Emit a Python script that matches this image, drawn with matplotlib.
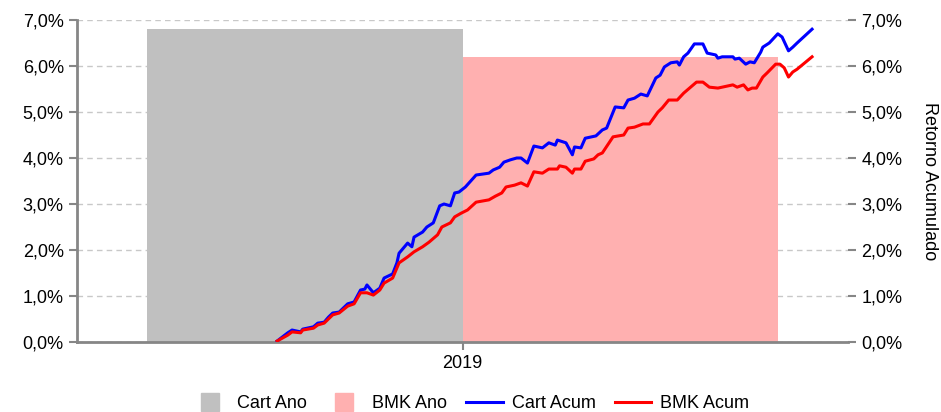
import numpy as np
import matplotlib
matplotlib.use("Agg")
import matplotlib.pyplot as plt
from matplotlib.ticker import FuncFormatter, MultipleLocator
from matplotlib.lines import Line2D

plt.rcParams['font.family'] = ['Liberation Sans', 'DejaVu Sans']

# Annual returns (%)
categories = ['2019']
cart_ano = [6.80]
bmk_ano = [6.20]

# Cumulative returns (%) by trading day
cart_dias = [0, 5, 7, 11, 12, 17, 19, 22, 24, 26, 29, 33, 36, 39, 41, 42, 45, 48, 50, 54,
             56, 57, 61, 63, 64, 68, 70, 73, 76, 78, 81, 83, 85, 88, 93, 99, 101, 104, 106, 109,
             112, 114, 117, 120, 124, 127, 130, 131, 135, 138, 139, 142, 144, 149, 152, 154, 158, 162, 164, 167,
             170, 173, 177, 179, 181, 184, 187, 188, 190, 192, 195, 199, 201, 205, 206, 208, 213, 214, 216, 219,
             221, 223, 226, 227, 230, 234, 236, 239, 241, 243, 250]
cart_acum = [0.02, 0.20, 0.26, 0.22, 0.28, 0.33, 0.41, 0.43, 0.54, 0.63, 0.65, 0.83, 0.87, 1.13, 1.15, 1.24, 1.07, 1.17, 1.39, 1.48,
             1.72, 1.93, 2.15, 2.07, 2.28, 2.39, 2.50, 2.59, 2.96, 3.00, 2.96, 3.24, 3.26, 3.37, 3.63, 3.67, 3.74, 3.80, 3.91, 3.96,
             4.00, 4.00, 3.89, 4.26, 4.22, 4.33, 4.28, 4.39, 4.33, 4.07, 4.24, 4.22, 4.43, 4.48, 4.61, 4.65, 5.11, 5.09, 5.26, 5.30,
             5.39, 5.35, 5.74, 5.80, 5.98, 6.07, 6.09, 6.02, 6.20, 6.28, 6.48, 6.48, 6.28, 6.24, 6.17, 6.20, 6.20, 6.15, 6.17, 6.04,
             6.09, 6.07, 6.30, 6.41, 6.50, 6.70, 6.63, 6.33, 6.41, 6.50, 6.80]

bmk_dias = [0, 5, 7, 11, 12, 17, 19, 22, 24, 26, 29, 33, 36, 39, 42, 45, 48, 50, 54, 57,
            61, 64, 68, 71, 75, 77, 81, 83, 86, 89, 93, 99, 102, 105, 107, 111, 114, 117, 120, 124,
            127, 131, 132, 135, 138, 139, 142, 144, 148, 150, 152, 157, 162, 164, 167, 171, 174, 178, 180, 183,
            187, 190, 196, 199, 202, 206, 208, 213, 215, 218, 220, 222, 224, 227, 229, 233, 235, 237, 239, 241,
            243, 250]
bmk_acum = [0.02, 0.15, 0.22, 0.20, 0.26, 0.30, 0.37, 0.41, 0.50, 0.59, 0.63, 0.78, 0.83, 1.07, 1.07, 1.02, 1.13, 1.28, 1.39, 1.72,
            1.85, 1.96, 2.07, 2.17, 2.33, 2.50, 2.59, 2.72, 2.80, 2.87, 3.04, 3.09, 3.17, 3.24, 3.37, 3.41, 3.46, 3.39, 3.70, 3.67,
            3.76, 3.76, 3.83, 3.80, 3.67, 3.76, 3.76, 3.93, 3.98, 4.07, 4.11, 4.46, 4.50, 4.65, 4.67, 4.74, 4.74, 5.00, 5.09, 5.26,
            5.26, 5.41, 5.65, 5.65, 5.54, 5.52, 5.54, 5.59, 5.54, 5.59, 5.48, 5.52, 5.52, 5.76, 5.85, 6.04, 6.04, 5.96, 5.76, 5.87,
            5.93, 6.20]

cor_cart_ano = '#c0c0c0'
cor_bmk_ano = '#ffb0b0'
cor_eixo = '#868686'

def pct(v, pos):
    return f"{v:.1f}%".replace('.', ',')

fig = plt.figure(figsize=(9.41, 4.12), dpi=100)
rect = [77 / 941, 70 / 412, 771 / 941, 322 / 412]
ax = fig.add_axes(rect)

# Bars
x = np.arange(len(categories))
w = 0.409
ax.bar(x - w / 2, cart_ano, width=w, color=cor_cart_ano, zorder=2)
ax.bar(x + w / 2, bmk_ano, width=w, color=cor_bmk_ano, zorder=2)
ax.set_xlim(-0.5, 0.5)
ax.set_ylim(0, 7)
ax.set_xticks(x)
ax.set_xticklabels(categories)
ax.yaxis.set_major_locator(MultipleLocator(1))
ax.yaxis.set_major_formatter(FuncFormatter(pct))
ax.grid(axis='y', linestyle=(0, (4, 3)), color='#c8c8c8', linewidth=1, zorder=0)
ax.set_axisbelow(True)
for s in ['top', 'right']:
    ax.spines[s].set_visible(False)
for s in ['left', 'bottom']:
    ax.spines[s].set_color(cor_eixo)
    ax.spines[s].set_linewidth(2)
ax.tick_params(colors=cor_eixo, labelcolor='black', labelsize=13, length=6, width=1.5)

# Lines (cumulative, secondary axis)
ax2 = fig.add_axes(rect, frameon=False)
ax2.plot(cart_dias, cart_acum, color='#0000ff', linewidth=2.2, zorder=3)
ax2.plot(bmk_dias, bmk_acum, color='#ff0000', linewidth=2.2, zorder=3)
ax2.set_xlim(-93.5, 266.8)
ax2.set_ylim(0, 7)
ax2.xaxis.set_visible(False)
ax2.yaxis.tick_right()
ax2.yaxis.set_label_position('right')
ax2.yaxis.set_major_locator(MultipleLocator(1))
ax2.yaxis.set_major_formatter(FuncFormatter(pct))
ax2.spines['right'].set_visible(True)
ax2.spines['right'].set_color(cor_eixo)
ax2.spines['right'].set_linewidth(2)
ax2.tick_params(colors=cor_eixo, labelcolor='black', labelsize=13, length=6, width=1.5)
ax2.set_ylabel('Retorno Acumulado', rotation=-90, labelpad=26, fontsize=13)

handles = [
    Line2D([], [], marker='s', linestyle='none', markersize=13, color=cor_cart_ano),
    Line2D([], [], marker='s', linestyle='none', markersize=13, color=cor_bmk_ano),
    Line2D([], [], color='#0000ff', linewidth=2.2),
    Line2D([], [], color='#ff0000', linewidth=2.2),
]
labels = ['Cart Ano', 'BMK Ano', 'Cart Acum', 'BMK Acum']
fig.legend(handles, labels, loc='lower center', bbox_to_anchor=(0.5, -0.04), ncol=4,
           frameon=False, fontsize=13, handlelength=2.0, columnspacing=1.1, handletextpad=0.5)

fig.savefig('out.png', dpi=100)
